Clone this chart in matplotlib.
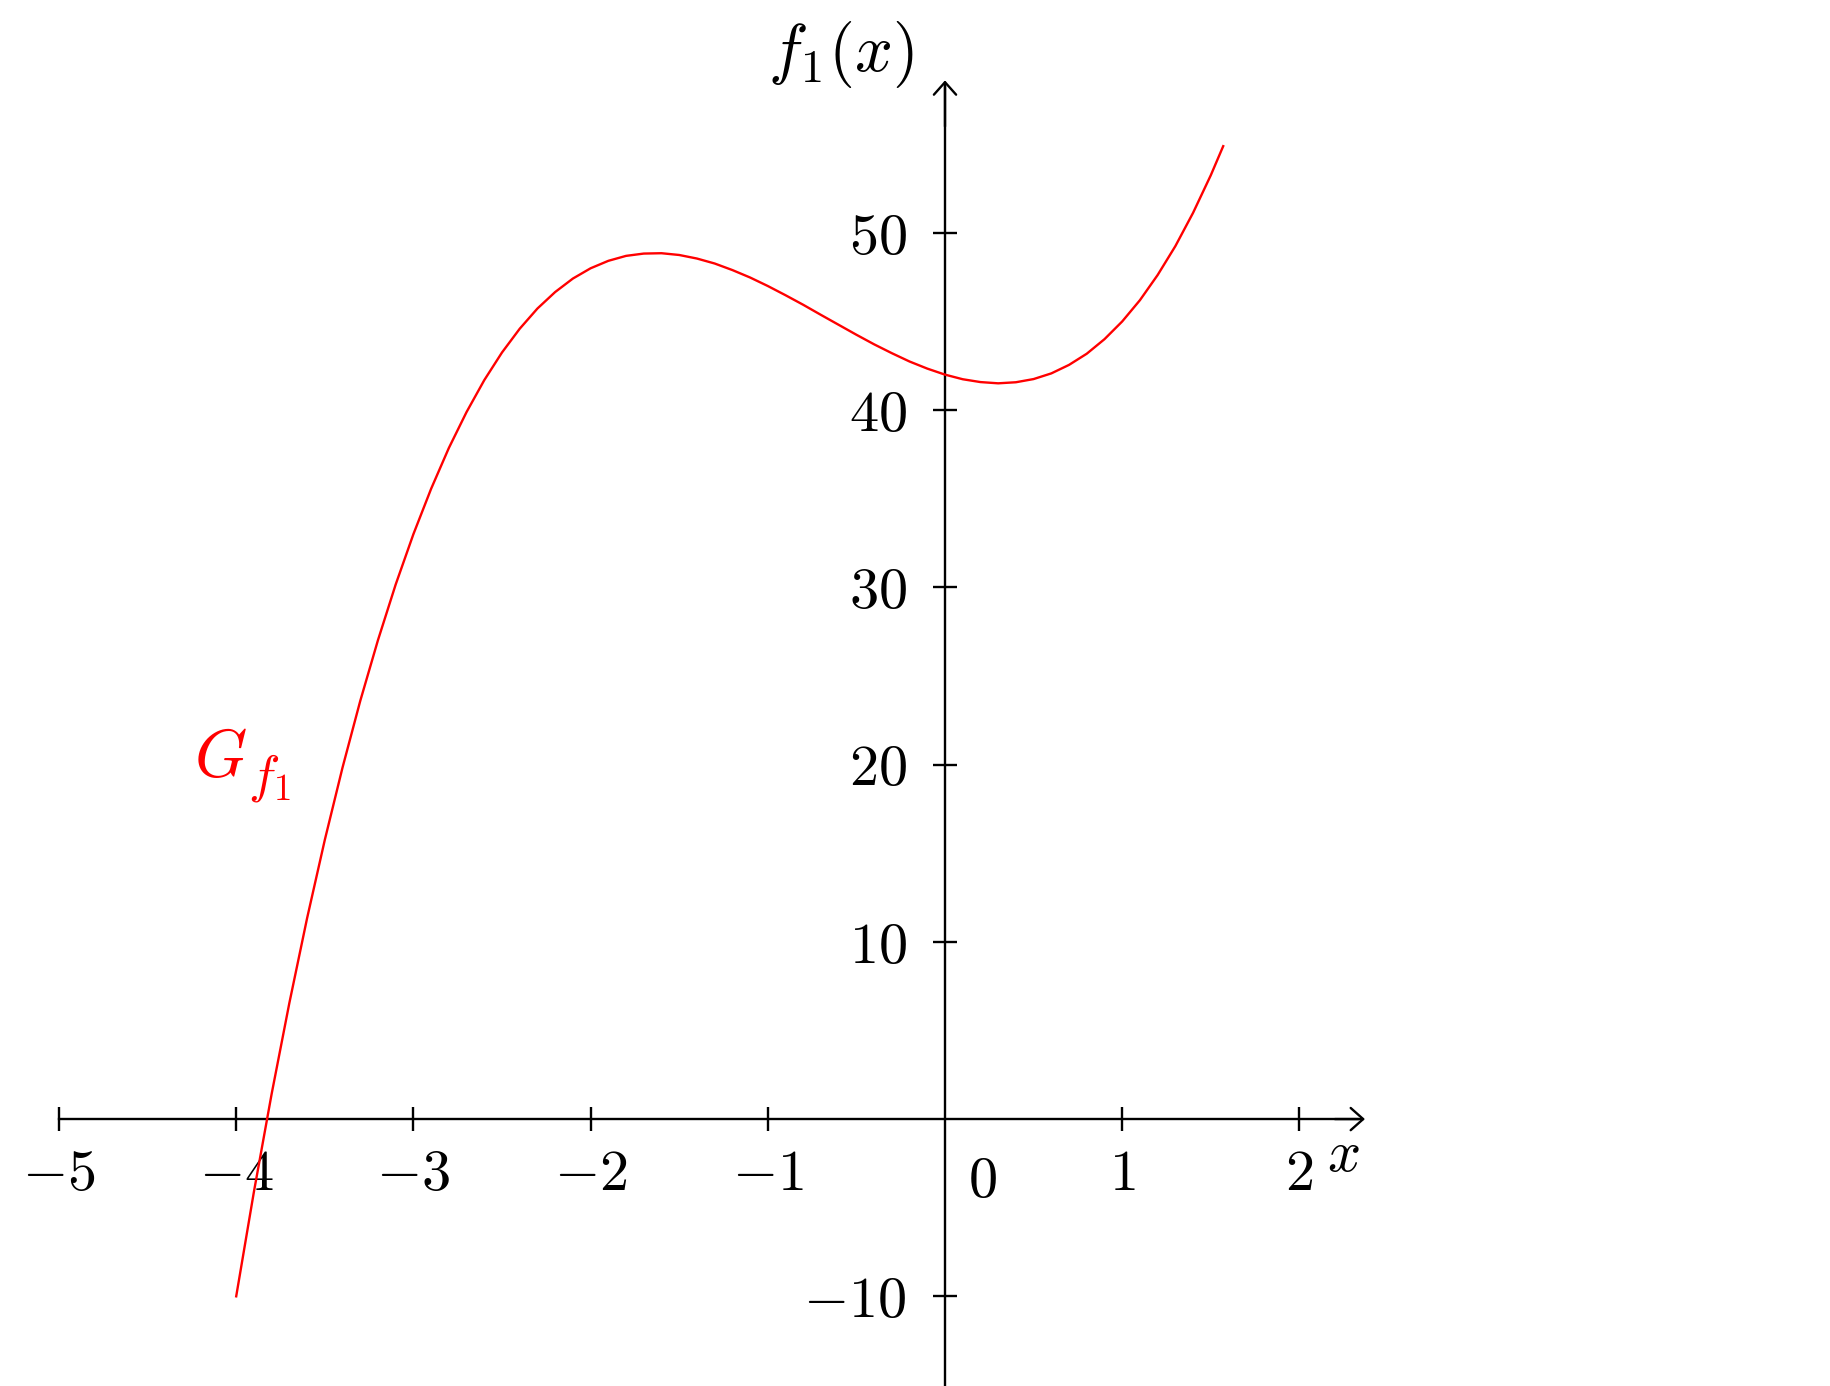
import matplotlib
matplotlib.use("Agg")
import matplotlib.pyplot as plt

plt.rcParams['mathtext.fontset'] = 'cm'
plt.rcParams['font.family'] = 'serif'
plt.rcParams['font.serif'] = ['cmr10', 'DejaVu Serif']
plt.rcParams['axes.formatter.use_mathtext'] = True

# ---- data ----
x_vals = [-4.0, -3.9, -3.8, -3.7, -3.6, -3.5, -3.4, -3.3, -3.2, -3.1,
          -3.0, -2.9, -2.8, -2.7, -2.6, -2.5, -2.4, -2.3, -2.2, -2.1,
          -2.0, -1.9, -1.8, -1.7, -1.6, -1.5, -1.4, -1.3, -1.2, -1.1,
          -1.0, -0.9, -0.8, -0.7, -0.6, -0.5, -0.4, -0.3, -0.2, -0.1,
          0.0, 0.1, 0.2, 0.3, 0.4, 0.5, 0.6, 0.7, 0.8, 0.9,
          1.0, 1.1, 1.2, 1.3, 1.4, 1.5, 1.57]
y_vals = [-10.0, -4.10, 1.42, 6.55, 11.33, 15.75, 19.83, 23.59, 27.02, 30.16,
          33.0, 35.56, 37.86, 39.89, 41.69, 43.25, 44.59, 45.73, 46.66, 47.42,
          48.0, 48.42, 48.70, 48.83, 48.85, 48.75, 48.55, 48.27, 47.90, 47.48,
          47.0, 46.48, 45.94, 45.37, 44.81, 44.25, 43.71, 43.21, 42.74, 42.34,
          42.0, 41.74, 41.58, 41.51, 41.57, 41.75, 42.07, 42.55, 43.18, 44.0,
          45.0, 46.20, 47.62, 49.25, 51.13, 53.25, 54.89]
x_ticks = [-5, -4, -3, -2, -1, 1, 2]
y_ticks = [-10, 10, 20, 30, 40, 50]
x_tick_labels = [r'$-5$', r'$-4$', r'$-3$', r'$-2$', r'$-1$', r'$1$', r'$2$']
y_tick_labels = [r'$-10$', r'$10$', r'$20$', r'$30$', r'$40$', r'$50$']

W, H, DPI = 1831, 1387, 100
fig = plt.figure(figsize=(W / DPI, (H - 0.4) / DPI), dpi=DPI)
ax = fig.add_axes([0, 0, 1, 1])

# pixel anchors -> axis limits
px_per_x = 177.2
px_per_y = 17.73
x0_px, y0_px = 945.0, 1120.0
ax.set_xlim(-x0_px / px_per_x, (W - x0_px) / px_per_x)
ax.set_ylim(-(H - y0_px) / px_per_y, y0_px / px_per_y)

FS = 42
FS_BIG = 48
FS_SUB = 38
lw_axis = 1.7

ax.plot(x_vals, y_vals, color='red', lw=1.7, zorder=3, clip_on=False)

for s in ['top', 'right']:
    ax.spines[s].set_visible(False)
ax.spines['left'].set_position(('data', 0))
ax.spines['bottom'].set_position(('data', 0))
ax.spines['left'].set_linewidth(lw_axis)
ax.spines['bottom'].set_linewidth(lw_axis)
ax.spines['bottom'].set_bounds(-5, 2.33)
ax.spines['left'].set_bounds(-16, 58.3)

ax.set_xticks(x_ticks)
ax.set_xticklabels(x_tick_labels, fontsize=FS)
ax.set_yticks(y_ticks)
ax.set_yticklabels(y_tick_labels, fontsize=FS)
ax.tick_params(axis='both', direction='inout', length=17, width=lw_axis)
ax.tick_params(axis='x', pad=13)
ax.tick_params(axis='y', pad=19)

# arrow heads
ax.annotate('', xy=(2.37, 0), xytext=(2.2, 0),
            arrowprops=dict(arrowstyle='->,head_length=0.45,head_width=0.4',
                            lw=lw_axis, color='black', mutation_scale=20,
                            shrinkA=0, shrinkB=0))
ax.annotate('', xy=(0, 58.6), xytext=(0, 56),
            arrowprops=dict(arrowstyle='->,head_length=0.45,head_width=0.4',
                            lw=lw_axis, color='black', mutation_scale=20,
                            shrinkA=0, shrinkB=0))

ax.text(2.246, -2.09, r'$x$', fontsize=FS, ha='center', va='center')
ax.text(-0.59, 60.1, r'$f_1(x)$', fontsize=FS_BIG, ha='center', va='center')
ax.text(0.214, -3.55, r'$0$', fontsize=FS, ha='center', va='center')
# graph label G_{f_1}
ax.text(-4.09, 20.27, r'$G$', fontsize=FS_BIG, ha='center', va='center', color='red')
ax.text(-3.809, 19.29, r'$f_1$', fontsize=FS_SUB, ha='center', va='center', color='red')

fig.savefig('out.png', dpi=DPI, facecolor='white')
